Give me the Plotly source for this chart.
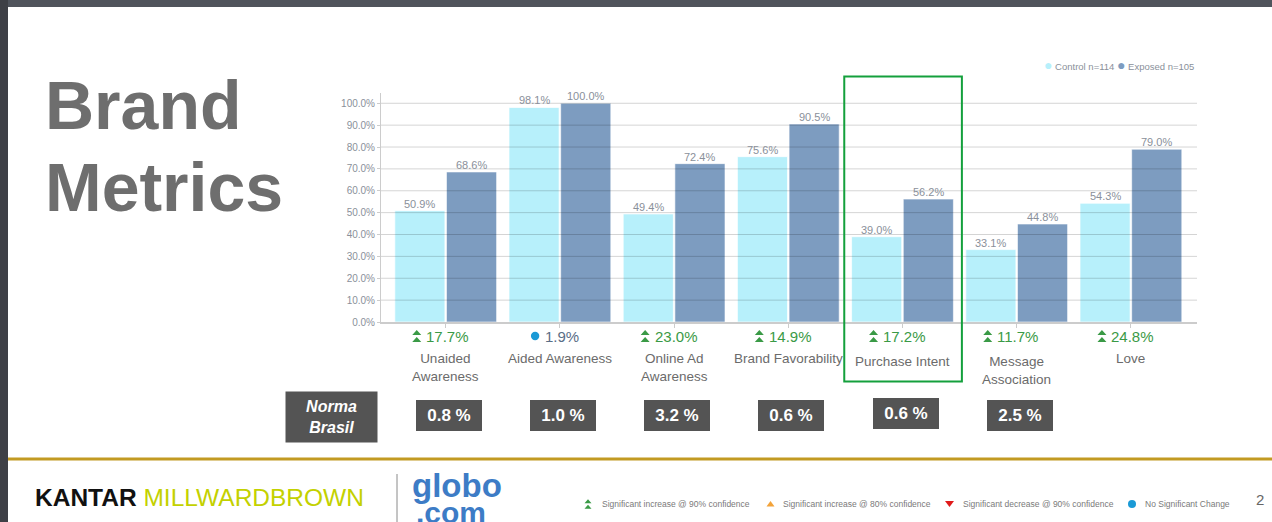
import plotly.graph_objects as go

# ---------------- data ----------------
categories = ["Unaided<br>Awareness", "Aided Awareness", "Online Ad<br>Awareness",
              "Brand Favorability", "Purchase Intent", "Message<br>Association", "Love"]
control = [50.9, 98.1, 49.4, 75.6, 39.0, 33.1, 54.3]
exposed = [68.6, 100.0, 72.4, 90.5, 56.2, 44.8, 79.0]
lift = ["17.7%", "1.9%", "23.0%", "14.9%", "17.2%", "11.7%", "24.8%"]
significance = ["up90", "none", "up90", "up90", "up90", "up90", "up90"]
norma = ["0.8 %", "1.0 %", "3.2 %", "0.6 %", "0.6 %", "2.5 %", None]
y_ticks = [0, 10, 20, 30, 40, 50, 60, 70, 80, 90, 100]
y_tick_labels = ["0.0%", "10.0%", "20.0%", "30.0%", "40.0%", "50.0%",
                 "60.0%", "70.0%", "80.0%", "90.0%", "100.0%"]
series_names = ["Control n=114", "Exposed n=105"]
highlight_index = 4

# ---------------- layout helpers ----------------
W, H = 1272, 522
L, R, T, B = 381, 1197, 93, 322          # plot area in pixels
def px(x):
    return (x - L) / (R - L)
def py(y):
    return (B - y) / (B - T)

C_CONTROL = "#b7f0fb"
C_EXPOSED = "#7d9cc0"
GREEN = "#3a9a46"
FONT = "Liberation Sans, Arial, sans-serif"
BARGAP = 0.095
X_RANGE = [-0.5666, 6.5788]

fig = go.Figure()
fig.add_trace(go.Bar(x=categories, y=control, name=series_names[0],
                     marker=dict(color=C_CONTROL, line=dict(color="rgba(255,255,255,0.7)", width=1)),
                     showlegend=False))
fig.add_trace(go.Bar(x=categories, y=exposed, name=series_names[1],
                     marker=dict(color=C_EXPOSED, line=dict(color="rgba(255,255,255,0.6)", width=1)),
                     showlegend=False))

shapes = []
annotations = []

# value labels sitting just on top of each bar
cat_px = (R - L) / (X_RANGE[1] - X_RANGE[0])
half_off = cat_px * (1 - BARGAP) / 4
for vals, sgn in ((control, -1), (exposed, 1)):
    for i, v in enumerate(vals):
        annotations.append(dict(x=i, y=v, xref="x", yref="y", text=f"{v:.1f}%", showarrow=False,
                                xanchor="center", yanchor="bottom", xshift=sgn * half_off, yshift=-1,
                                font=dict(size=11, color="#8a909a", family=FONT)))

# gridlines drawn over the bars (semi-transparent)
for v in y_ticks[1:]:
    shapes.append(dict(type="line", xref="paper", yref="y", x0=0, x1=1, y0=v, y1=v,
                       line=dict(color="rgba(0,0,0,0.17)", width=1), layer="above"))

# dark slide frame
shapes.append(dict(type="rect", xref="paper", yref="paper", x0=px(0), x1=px(W), y0=py(0), y1=py(7),
                   fillcolor="#50545c", line=dict(width=0), layer="below"))
shapes.append(dict(type="rect", xref="paper", yref="paper", x0=px(0), x1=px(8), y0=py(0), y1=py(H),
                   fillcolor="#3e4046", line=dict(width=0), layer="below"))

# gold rule
shapes.append(dict(type="line", xref="paper", yref="paper", x0=px(8), x1=px(W), y0=py(459), y1=py(459),
                   line=dict(color="#c29a22", width=3)))
# divider between logos
shapes.append(dict(type="line", xref="paper", yref="paper", x0=px(397), x1=px(397), y0=py(474), y1=py(H),
                   line=dict(color="#8a8a8a", width=1)))

# highlight box around Purchase Intent
shapes.append(dict(type="rect", xref="x", yref="paper",
                   x0=highlight_index - 0.51, x1=highlight_index + 0.52,
                   y0=py(381.5), y1=py(76.5),
                   line=dict(color="#14a03c", width=2), fillcolor="rgba(0,0,0,0)"))

# char width estimate for lift text (Arial metrics)
def text_w(s, size):
    wmap = {".": 0.278, "%": 0.889, " ": 0.278}
    return sum(wmap.get(c, 0.556) for c in s) * size

def up2_path(cx, w=9, h=5, gap=1):
    hw = w / 2
    return (f"M{cx-hw},{gap} L{cx+hw},{gap} L{cx},{gap+h} Z "
            f"M{cx-hw},{-gap-h} L{cx+hw},{-gap-h} L{cx},{-gap} Z")

lift_size = 15
for i, cat in enumerate(categories):
    w = text_w(lift[i], lift_size)
    grp_center = -5.7
    icon_cx = grp_center - (13 + w) / 2 + 4.5
    text_left = grp_center - (13 + w) / 2 + 12
    sig = significance[i]
    if sig == "up90":
        shapes.append(dict(type="path", xref="x", yref="paper", xsizemode="pixel", ysizemode="pixel",
                           xanchor=i, yanchor=py(336), path=up2_path(icon_cx),
                           fillcolor="#3a9a46", line=dict(width=0)))
        col = GREEN
    else:
        shapes.append(dict(type="circle", xref="x", yref="paper", xsizemode="pixel", ysizemode="pixel",
                           xanchor=i, yanchor=py(336), x0=icon_cx - 4.2, x1=icon_cx + 4.2, y0=-4.2, y1=4.2,
                           fillcolor="#1b9ad6", line=dict(width=0)))
        col = "#5a6d86"
    annotations.append(dict(x=i, y=py(336), xref="x", yref="paper", text=lift[i], showarrow=False,
                            xanchor="left", yanchor="middle", xshift=text_left,
                            font=dict(size=lift_size, color=col, family=FONT)))
    # category label
    off = 2.5 if i in (4, 5) else 0
    annotations.append(dict(x=i, y=py(349 + off), xref="x", yref="paper", text=cat, showarrow=False,
                            xanchor="center", yanchor="top",
                            font=dict(size=13.5, color="#6b6b6b", family=FONT)))
    # norma boxes
    if norma[i] is not None:
        cy = 413.5 if i == highlight_index else 415
        annotations.append(dict(x=i, y=py(cy), xref="x", yref="paper", text=f"<b>{norma[i]}</b>",
                                showarrow=False, xanchor="center", yanchor="middle", xshift=3,
                                width=64, height=29, bgcolor="#545454", borderpad=1,
                                bordercolor="#8a8a8a", borderwidth=0,
                                font=dict(size=17, color="white", family=FONT)))

# Norma Brasil label
annotations.append(dict(x=px(331.5), y=py(417), xref="paper", yref="paper",
                        text="<b><i>Norma<br>Brasil</i></b>", showarrow=False,
                        xanchor="center", yanchor="middle", width=89, height=48,
                        bgcolor="#545454", borderpad=1,
                        font=dict(size=16, color="white", family=FONT)))

# Title
annotations.append(dict(x=px(43), y=py(105.5), xref="paper", yref="paper", text="<b>Brand</b>",
                        showarrow=False, xanchor="left", yanchor="middle",
                        font=dict(size=68, color="#6e6e6e", family=FONT)))
annotations.append(dict(x=px(43), y=py(187), xref="paper", yref="paper", text="<b>Metrics</b>",
                        showarrow=False, xanchor="left", yanchor="middle",
                        font=dict(size=68, color="#6e6e6e", family=FONT)))

# legend (top right)
annotations.append(dict(x=px(1196), y=py(65), xref="paper", yref="paper",
                        text=(f"<span style='color:{C_CONTROL};font-size:14px'>●</span> {series_names[0]} "
                              f"<span style='color:{C_EXPOSED};font-size:14px'>●</span> {series_names[1]}"),
                        showarrow=False, xanchor="right", yanchor="middle",
                        font=dict(size=9.5, color="#8a909a", family=FONT)))

# Footer logos
annotations.append(dict(x=px(33), y=py(497), xref="paper", yref="paper",
                        text="<b>KANTAR</b> <span style='color:#c3d100'>MILLWARDBROWN</span>",
                        showarrow=False, xanchor="left", yanchor="middle",
                        font=dict(size=24.5, color="#111111", family=FONT)))
annotations.append(dict(x=px(410), y=py(485), xref="paper", yref="paper", text="<b>globo</b>",
                        showarrow=False, xanchor="left", yanchor="middle",
                        font=dict(size=33, color="#3d7cc6", family=FONT)))
annotations.append(dict(x=px(414), y=py(512), xref="paper", yref="paper", text="<b>.com</b>",
                        showarrow=False, xanchor="left", yanchor="middle",
                        font=dict(size=30, color="#3d7cc6", family=FONT)))

# Footnote key
foot_texts = ["Significant increase @ 90% confidence", "Significant increase @ 80% confidence",
              "Significant decrease @ 90% confidence", "No Significant Change"]
foot_text_x = [600, 781, 961, 1143]
foot_icon_x = [588, 770.5, 949.5, 1132]
fy = 504
for t, tx in zip(foot_texts, foot_text_x):
    annotations.append(dict(x=px(tx), y=py(fy), xref="paper", yref="paper", text=t, showarrow=False,
                            xanchor="left", yanchor="middle",
                            font=dict(size=8.5, color="#7a7a7a", family=FONT)))
shapes.append(dict(type="path", xref="paper", yref="paper", xsizemode="pixel", ysizemode="pixel",
                   xanchor=px(foot_icon_x[0]), yanchor=py(fy), path=up2_path(0, w=7, h=4, gap=0.7),
                   fillcolor="#3a9a46", line=dict(width=0)))
shapes.append(dict(type="path", xref="paper", yref="paper", xsizemode="pixel", ysizemode="pixel",
                   xanchor=px(foot_icon_x[1]), yanchor=py(fy), path="M-4,-2.5 L4,-2.5 L0,3 Z",
                   fillcolor="#f3a33a", line=dict(width=0)))
shapes.append(dict(type="path", xref="paper", yref="paper", xsizemode="pixel", ysizemode="pixel",
                   xanchor=px(foot_icon_x[2]), yanchor=py(fy), path="M-4.5,3 L4.5,3 L0,-3 Z",
                   fillcolor="#e01b1b", line=dict(width=0)))
shapes.append(dict(type="circle", xref="paper", yref="paper", xsizemode="pixel", ysizemode="pixel",
                   xanchor=px(foot_icon_x[3]), yanchor=py(fy), x0=-4, x1=4, y0=-4, y1=4,
                   fillcolor="#1b9ad6", line=dict(width=0)))
annotations.append(dict(x=px(1260), y=py(499), xref="paper", yref="paper", text="2", showarrow=False,
                        xanchor="center", yanchor="middle",
                        font=dict(size=15, color="#666666", family=FONT)))

fig.update_layout(
    width=W, height=H, autosize=False,
    margin=dict(l=L, r=W - R, t=T, b=H - B, pad=0),
    paper_bgcolor="white", plot_bgcolor="white",
    font=dict(family=FONT),
    barmode="group", bargap=BARGAP, bargroupgap=0.03,
    shapes=shapes, annotations=annotations,
    showlegend=False,
    xaxis=dict(type="category", range=X_RANGE, showticklabels=False,
               ticks="outside", ticklen=4, tickcolor="#cccccc",
               showline=True, linecolor="#cccccc", linewidth=2, showgrid=False, zeroline=False,
               fixedrange=True),
    yaxis=dict(range=[0, 104.7], tickmode="array", tickvals=y_ticks, ticktext=y_tick_labels,
               tickfont=dict(size=10, color="#8a909a"), ticks="outside", ticklen=3,
               tickcolor="#cccccc", showline=True, linecolor="#cccccc", linewidth=1,
               showgrid=False, zeroline=False, fixedrange=True),
)

fig.write_html("out.html", config={"displayModeBar": False},
               post_script="document.body.style.margin='0px';document.body.style.overflow='hidden';")
